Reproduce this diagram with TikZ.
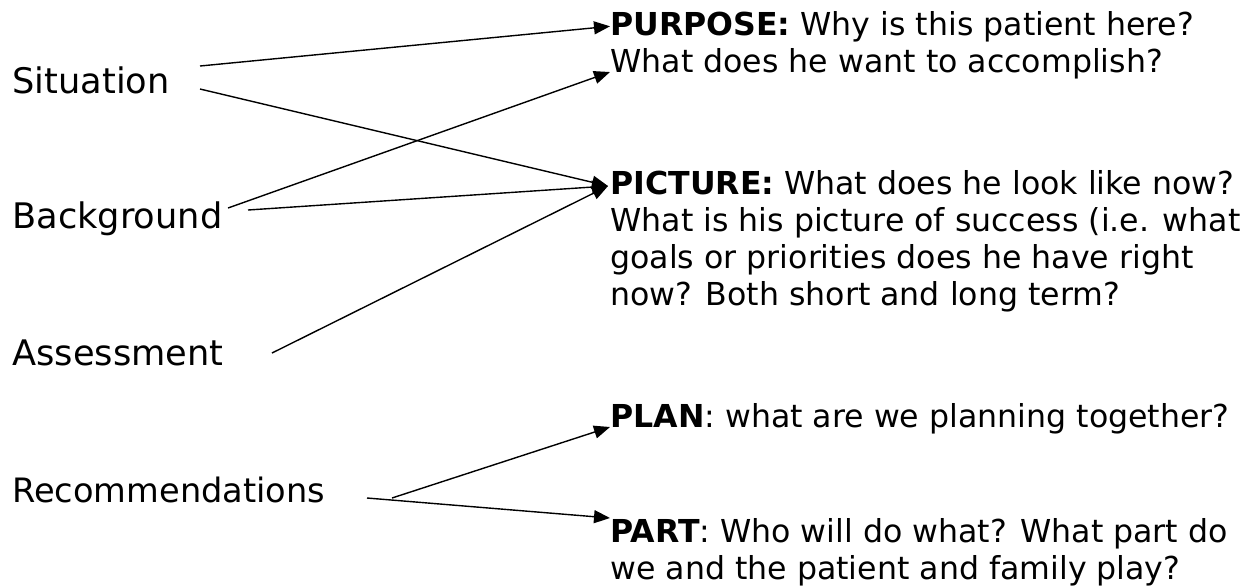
\documentclass[tikz,border=0pt]{standalone}
\usepackage{fontspec}
\setmainfont{DejaVu Sans}
\usetikzlibrary{arrows.meta}

\begin{document}
\begin{tikzpicture}[x=0.5pt,y=-0.5pt,
    etiqueta/.style={anchor=base west,inner sep=0pt,font=\fontsize{17.6}{21}\selectfont},
    texto/.style={anchor=base west,inner sep=0pt,align=left,font=\fontsize{15.8}{18.5}\selectfont},
    flecha/.style={-{Triangle[length=8pt,width=6.5pt]},line width=0.7pt}]
    \useasboundingbox (0,0) rectangle (1258,586);

    % Etiquetas a la izquierda
    \node[etiqueta] (sit) at (12,93) {Situation};
    \node[etiqueta] (back) at (12,228) {Background};
    \node[etiqueta] (assess) at (12,365) {Assessment};
    \node[etiqueta,font=\fontsize{16.8}{21}\selectfont] (recom) at (12,502) {Recommendations};

    % Textos a la derecha
    \node[texto] (purp) at (610,35) {\textbf{PURPOSE:} Why is this patient here?};
    \node[texto] (want) at (610,72) {What does he want to accomplish?};
    \node[texto,anchor=north west] (pict) at (610,170) {\textbf{PICTURE:} What does he look like now?\\
        What is his picture of success (i.e. what\\
        goals or priorities does he have right\\
        now? Both short and long term?};
    \node[texto] (plan) at (610,427) {\textbf{PLAN}: what are we planning together?};
    \node[texto,anchor=north west] (part) at (610,518) {\textbf{PART}: Who will do what? What part do\\
        we and the patient and family play?};

    % Puntos de salida
    \coordinate (s1) at (200,66);
    \coordinate (s2) at (200,89);
    \coordinate (b1) at (228,208);
    \coordinate (b2) at (248,210);
    \coordinate (a1) at (272,353);
    \coordinate (r1) at (392,498);
    \coordinate (r2) at (367,498);
    \coordinate (pin) at (608,186);

    % Flechas
    \draw[flecha] (s1) -- (purp.west);
    \draw[flecha] (s2) -- (pin);
    \draw[flecha] (b1) -- (want.base west);
    \draw[flecha] (b2) -- (pin);
    \draw[flecha] (a1) -- (pin);
    \draw[flecha] (r1) -- (plan.base west);
    \draw[flecha] (r2) -- (part.north west);
\end{tikzpicture}
\end{document}
